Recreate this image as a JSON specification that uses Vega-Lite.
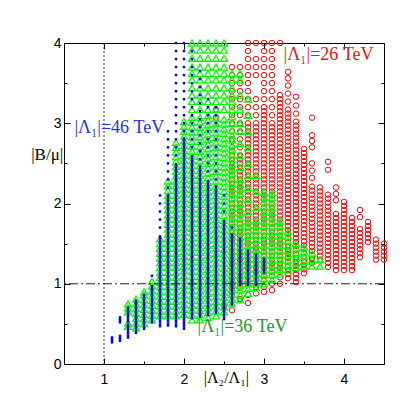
{
"$schema": "https://vega.github.io/schema/vega-lite/v6.json",
"width": 320, "height": 321,
"autosize": {"type": "none"},
"padding": {"left": 64, "top": 43, "right": 19, "bottom": 39},
"background": "white",
"config": {
  "view": {"stroke": "black", "strokeWidth": 1},
  "axis": {"domain": false, "grid": false, "tickColor": "black", "labelColor": "black", "labelFont": "Liberation Sans", "labelFontSize": 14, "title": null, "format": "d"}
},
"resolve": {"axis": {"x": "independent", "y": "independent"}},
"datasets": {
"red": [
{"x":2.4,"y":3.07},{"x":2.4,"y":3.17},{"x":2.5,"y":0.72},
{"x":2.6,"y":0.67},{"x":2.6,"y":0.85},{"x":2.6,"y":0.90},{"x":2.6,"y":0.95},{"x":2.6,"y":1.00},{"x":2.6,"y":1.05},{"x":2.6,"y":1.10},{"x":2.6,"y":1.15},{"x":2.6,"y":1.20},{"x":2.6,"y":1.25},{"x":2.6,"y":1.30},{"x":2.6,"y":1.35},{"x":2.6,"y":1.40},{"x":2.6,"y":1.45},{"x":2.6,"y":1.50},{"x":2.6,"y":1.55},{"x":2.6,"y":1.60},{"x":2.6,"y":1.65},{"x":2.6,"y":1.70},{"x":2.6,"y":1.75},{"x":2.6,"y":1.80},{"x":2.6,"y":1.85},{"x":2.6,"y":1.90},{"x":2.6,"y":1.95},{"x":2.6,"y":2.00},{"x":2.6,"y":2.05},{"x":2.6,"y":2.10},{"x":2.6,"y":2.15},{"x":2.6,"y":2.20},{"x":2.6,"y":2.25},{"x":2.6,"y":2.30},{"x":2.6,"y":2.35},{"x":2.6,"y":2.40},{"x":2.6,"y":2.45},{"x":2.6,"y":2.50},{"x":2.6,"y":2.55},{"x":2.6,"y":2.60},{"x":2.6,"y":2.65},{"x":2.6,"y":2.70},{"x":2.6,"y":2.8},{"x":2.6,"y":2.9},{"x":2.6,"y":3.0},{"x":2.6,"y":3.1},{"x":2.6,"y":3.2},{"x":2.6,"y":3.3},{"x":2.6,"y":3.4},{"x":2.6,"y":3.5},{"x":2.6,"y":3.6},{"x":2.6,"y":3.7},
{"x":2.7,"y":0.81},{"x":2.7,"y":0.95},{"x":2.7,"y":1.00},{"x":2.7,"y":1.05},{"x":2.7,"y":1.10},{"x":2.7,"y":1.15},{"x":2.7,"y":1.20},{"x":2.7,"y":1.25},{"x":2.7,"y":1.30},{"x":2.7,"y":1.35},{"x":2.7,"y":1.40},{"x":2.7,"y":1.45},{"x":2.7,"y":1.50},{"x":2.7,"y":1.55},{"x":2.7,"y":1.60},{"x":2.7,"y":1.65},{"x":2.7,"y":1.70},{"x":2.7,"y":1.75},{"x":2.7,"y":1.80},{"x":2.7,"y":1.85},{"x":2.7,"y":1.90},{"x":2.7,"y":1.95},{"x":2.7,"y":2.00},{"x":2.7,"y":2.05},{"x":2.7,"y":2.10},{"x":2.7,"y":2.15},{"x":2.7,"y":2.20},{"x":2.7,"y":2.25},{"x":2.7,"y":2.30},{"x":2.7,"y":2.35},{"x":2.7,"y":2.40},{"x":2.7,"y":2.45},{"x":2.7,"y":2.50},{"x":2.7,"y":2.55},{"x":2.7,"y":2.60},{"x":2.7,"y":2.7},{"x":2.7,"y":2.8},{"x":2.7,"y":2.9},{"x":2.7,"y":3.0},{"x":2.7,"y":3.1},{"x":2.7,"y":3.2},{"x":2.7,"y":3.3},{"x":2.7,"y":3.4},{"x":2.7,"y":3.5},{"x":2.7,"y":3.6},{"x":2.7,"y":3.7},
{"x":2.8,"y":0.76},{"x":2.8,"y":0.86},{"x":2.8,"y":1.00},{"x":2.8,"y":1.05},{"x":2.8,"y":1.10},{"x":2.8,"y":1.15},{"x":2.8,"y":1.20},{"x":2.8,"y":1.25},{"x":2.8,"y":1.30},{"x":2.8,"y":1.35},{"x":2.8,"y":1.40},{"x":2.8,"y":1.45},{"x":2.8,"y":1.50},{"x":2.8,"y":1.55},{"x":2.8,"y":1.60},{"x":2.8,"y":1.65},{"x":2.8,"y":1.70},{"x":2.8,"y":1.75},{"x":2.8,"y":1.80},{"x":2.8,"y":1.85},{"x":2.8,"y":1.90},{"x":2.8,"y":1.95},{"x":2.8,"y":2.00},{"x":2.8,"y":2.05},{"x":2.8,"y":2.10},{"x":2.8,"y":2.15},{"x":2.8,"y":2.20},{"x":2.8,"y":2.25},{"x":2.8,"y":2.30},{"x":2.8,"y":2.35},{"x":2.8,"y":2.40},{"x":2.8,"y":2.45},{"x":2.8,"y":2.50},{"x":2.8,"y":2.55},{"x":2.8,"y":2.60},{"x":2.8,"y":2.65},{"x":2.8,"y":2.70},{"x":2.8,"y":2.75},{"x":2.8,"y":2.80},{"x":2.8,"y":2.85},{"x":2.8,"y":2.90},{"x":2.8,"y":2.95},{"x":2.8,"y":3.00},{"x":2.8,"y":3.1},{"x":2.8,"y":3.2},{"x":2.8,"y":3.3},{"x":2.8,"y":3.4},{"x":2.8,"y":3.5},{"x":2.8,"y":3.6},{"x":2.8,"y":3.7},{"x":2.8,"y":3.8},{"x":2.8,"y":3.9},{"x":2.8,"y":4.0},
{"x":2.9,"y":0.88},{"x":2.9,"y":0.96},{"x":2.9,"y":1.05},{"x":2.9,"y":1.10},{"x":2.9,"y":1.15},{"x":2.9,"y":1.20},{"x":2.9,"y":1.25},{"x":2.9,"y":1.30},{"x":2.9,"y":1.35},{"x":2.9,"y":1.40},{"x":2.9,"y":1.45},{"x":2.9,"y":1.50},{"x":2.9,"y":1.55},{"x":2.9,"y":1.60},{"x":2.9,"y":1.65},{"x":2.9,"y":1.70},{"x":2.9,"y":1.75},{"x":2.9,"y":1.80},{"x":2.9,"y":1.85},{"x":2.9,"y":1.90},{"x":2.9,"y":1.95},{"x":2.9,"y":2.00},{"x":2.9,"y":2.05},{"x":2.9,"y":2.10},{"x":2.9,"y":2.15},{"x":2.9,"y":2.20},{"x":2.9,"y":2.25},{"x":2.9,"y":2.30},{"x":2.9,"y":2.35},{"x":2.9,"y":2.40},{"x":2.9,"y":2.45},{"x":2.9,"y":2.50},{"x":2.9,"y":2.55},{"x":2.9,"y":2.60},{"x":2.9,"y":2.65},{"x":2.9,"y":2.70},{"x":2.9,"y":2.75},{"x":2.9,"y":2.80},{"x":2.9,"y":2.85},{"x":2.9,"y":2.90},{"x":2.9,"y":2.95},{"x":2.9,"y":3.00},{"x":2.9,"y":3.1},{"x":2.9,"y":3.2},{"x":2.9,"y":3.3},{"x":2.9,"y":3.6},{"x":2.9,"y":3.7},{"x":2.9,"y":3.8},{"x":2.9,"y":4.0},
{"x":3.0,"y":0.90},{"x":3.0,"y":0.96},{"x":3.0,"y":1.05},{"x":3.0,"y":1.10},{"x":3.0,"y":1.15},{"x":3.0,"y":1.20},{"x":3.0,"y":1.25},{"x":3.0,"y":1.30},{"x":3.0,"y":1.35},{"x":3.0,"y":1.40},{"x":3.0,"y":1.45},{"x":3.0,"y":1.50},{"x":3.0,"y":1.55},{"x":3.0,"y":1.60},{"x":3.0,"y":1.65},{"x":3.0,"y":1.70},{"x":3.0,"y":1.75},{"x":3.0,"y":1.80},{"x":3.0,"y":1.85},{"x":3.0,"y":1.90},{"x":3.0,"y":1.95},{"x":3.0,"y":2.00},{"x":3.0,"y":2.05},{"x":3.0,"y":2.10},{"x":3.0,"y":2.15},{"x":3.0,"y":2.20},{"x":3.0,"y":2.25},{"x":3.0,"y":2.30},{"x":3.0,"y":2.35},{"x":3.0,"y":2.40},{"x":3.0,"y":2.45},{"x":3.0,"y":2.50},{"x":3.0,"y":2.55},{"x":3.0,"y":2.60},{"x":3.0,"y":2.65},{"x":3.0,"y":2.70},{"x":3.0,"y":2.75},{"x":3.0,"y":2.80},{"x":3.0,"y":2.85},{"x":3.0,"y":2.90},{"x":3.0,"y":2.95},{"x":3.0,"y":3.00},{"x":3.0,"y":3.05},{"x":3.0,"y":3.10},{"x":3.0,"y":3.15},{"x":3.0,"y":3.20},{"x":3.0,"y":3.3},{"x":3.0,"y":3.4},{"x":3.0,"y":3.5},{"x":3.0,"y":3.6},{"x":3.0,"y":3.7},{"x":3.0,"y":3.8},{"x":3.0,"y":3.9},{"x":3.0,"y":4.0},
{"x":3.1,"y":0.92},{"x":3.1,"y":1.00},{"x":3.1,"y":1.10},{"x":3.1,"y":1.15},{"x":3.1,"y":1.20},{"x":3.1,"y":1.25},{"x":3.1,"y":1.30},{"x":3.1,"y":1.35},{"x":3.1,"y":1.40},{"x":3.1,"y":1.45},{"x":3.1,"y":1.50},{"x":3.1,"y":1.55},{"x":3.1,"y":1.60},{"x":3.1,"y":1.65},{"x":3.1,"y":1.70},{"x":3.1,"y":1.75},{"x":3.1,"y":1.80},{"x":3.1,"y":1.85},{"x":3.1,"y":1.90},{"x":3.1,"y":1.95},{"x":3.1,"y":2.00},{"x":3.1,"y":2.05},{"x":3.1,"y":2.10},{"x":3.1,"y":2.15},{"x":3.1,"y":2.20},{"x":3.1,"y":2.25},{"x":3.1,"y":2.30},{"x":3.1,"y":2.35},{"x":3.1,"y":2.40},{"x":3.1,"y":2.45},{"x":3.1,"y":2.50},{"x":3.1,"y":2.55},{"x":3.1,"y":2.60},{"x":3.1,"y":2.65},{"x":3.1,"y":2.70},{"x":3.1,"y":2.75},{"x":3.1,"y":2.80},{"x":3.1,"y":2.85},{"x":3.1,"y":2.90},{"x":3.1,"y":2.95},{"x":3.1,"y":3.00},{"x":3.1,"y":3.1},{"x":3.1,"y":3.2},{"x":3.1,"y":3.3},{"x":3.1,"y":3.4},{"x":3.1,"y":3.5},{"x":3.1,"y":3.6},{"x":3.1,"y":3.7},{"x":3.1,"y":3.8},{"x":3.1,"y":3.9},{"x":3.1,"y":4.0},
{"x":3.2,"y":1.00},{"x":3.2,"y":1.08},{"x":3.2,"y":1.15},{"x":3.2,"y":1.20},{"x":3.2,"y":1.25},{"x":3.2,"y":1.30},{"x":3.2,"y":1.35},{"x":3.2,"y":1.40},{"x":3.2,"y":1.45},{"x":3.2,"y":1.50},{"x":3.2,"y":1.55},{"x":3.2,"y":1.60},{"x":3.2,"y":1.65},{"x":3.2,"y":1.70},{"x":3.2,"y":1.75},{"x":3.2,"y":1.80},{"x":3.2,"y":1.85},{"x":3.2,"y":1.90},{"x":3.2,"y":1.95},{"x":3.2,"y":2.00},{"x":3.2,"y":2.05},{"x":3.2,"y":2.10},{"x":3.2,"y":2.15},{"x":3.2,"y":2.20},{"x":3.2,"y":2.25},{"x":3.2,"y":2.30},{"x":3.2,"y":2.35},{"x":3.2,"y":2.40},{"x":3.2,"y":2.45},{"x":3.2,"y":2.50},{"x":3.2,"y":2.55},{"x":3.2,"y":2.60},{"x":3.2,"y":2.65},{"x":3.2,"y":2.70},{"x":3.2,"y":2.75},{"x":3.2,"y":2.80},{"x":3.2,"y":2.85},{"x":3.2,"y":2.90},{"x":3.2,"y":2.95},{"x":3.2,"y":3.00},{"x":3.2,"y":3.05},{"x":3.2,"y":3.10},{"x":3.2,"y":3.15},{"x":3.2,"y":3.20},{"x":3.2,"y":3.25},{"x":3.2,"y":3.30},{"x":3.2,"y":3.35},{"x":3.2,"y":4.0},
{"x":3.3,"y":1.07},{"x":3.3,"y":1.12},{"x":3.3,"y":1.17},{"x":3.3,"y":1.22},{"x":3.3,"y":1.27},{"x":3.3,"y":1.32},{"x":3.3,"y":1.37},{"x":3.3,"y":1.42},{"x":3.3,"y":1.47},{"x":3.3,"y":1.52},{"x":3.3,"y":1.57},{"x":3.3,"y":1.62},{"x":3.3,"y":1.67},{"x":3.3,"y":1.72},{"x":3.3,"y":1.77},{"x":3.3,"y":1.82},{"x":3.3,"y":1.87},{"x":3.3,"y":1.92},{"x":3.3,"y":1.97},{"x":3.3,"y":2.02},{"x":3.3,"y":2.07},{"x":3.3,"y":2.12},{"x":3.3,"y":2.17},{"x":3.3,"y":2.22},{"x":3.3,"y":2.27},{"x":3.3,"y":2.32},{"x":3.3,"y":2.37},{"x":3.3,"y":2.42},{"x":3.3,"y":2.47},{"x":3.3,"y":2.52},{"x":3.3,"y":2.57},{"x":3.3,"y":2.62},{"x":3.3,"y":2.67},{"x":3.3,"y":2.72},{"x":3.3,"y":2.77},{"x":3.3,"y":2.82},{"x":3.3,"y":2.87},{"x":3.3,"y":2.92},{"x":3.3,"y":2.97},{"x":3.3,"y":3.02},{"x":3.3,"y":3.07},{"x":3.3,"y":3.12},{"x":3.3,"y":3.17},{"x":3.3,"y":3.27},{"x":3.3,"y":3.37},{"x":3.3,"y":3.47},{"x":3.3,"y":3.56},{"x":3.3,"y":3.64},
{"x":3.4,"y":1.02},{"x":3.4,"y":1.07},{"x":3.4,"y":1.12},{"x":3.4,"y":1.17},{"x":3.4,"y":1.22},{"x":3.4,"y":1.27},{"x":3.4,"y":1.32},{"x":3.4,"y":1.37},{"x":3.4,"y":1.42},{"x":3.4,"y":1.47},{"x":3.4,"y":1.52},{"x":3.4,"y":1.57},{"x":3.4,"y":1.62},{"x":3.4,"y":1.67},{"x":3.4,"y":1.72},{"x":3.4,"y":1.77},{"x":3.4,"y":1.82},{"x":3.4,"y":1.87},{"x":3.4,"y":1.92},{"x":3.4,"y":1.97},{"x":3.4,"y":2.02},{"x":3.4,"y":2.07},{"x":3.4,"y":2.12},{"x":3.4,"y":2.17},{"x":3.4,"y":2.22},{"x":3.4,"y":2.27},{"x":3.4,"y":2.32},{"x":3.4,"y":2.37},{"x":3.4,"y":2.42},{"x":3.4,"y":2.47},{"x":3.4,"y":2.52},{"x":3.4,"y":2.57},{"x":3.4,"y":2.62},{"x":3.4,"y":2.67},{"x":3.4,"y":2.72},{"x":3.4,"y":2.77},{"x":3.4,"y":2.82},{"x":3.4,"y":2.87},{"x":3.4,"y":2.92},{"x":3.4,"y":2.97},{"x":3.4,"y":3.02},{"x":3.4,"y":3.12},{"x":3.4,"y":3.22},{"x":3.4,"y":3.33},
{"x":3.5,"y":1.13},{"x":3.5,"y":1.18},{"x":3.5,"y":1.23},{"x":3.5,"y":1.28},{"x":3.5,"y":1.33},{"x":3.5,"y":1.38},{"x":3.5,"y":1.43},{"x":3.5,"y":1.48},{"x":3.5,"y":1.53},{"x":3.5,"y":1.58},{"x":3.5,"y":1.63},{"x":3.5,"y":1.68},{"x":3.5,"y":1.73},{"x":3.5,"y":1.78},{"x":3.5,"y":1.83},{"x":3.5,"y":1.88},{"x":3.5,"y":1.93},{"x":3.5,"y":1.98},{"x":3.5,"y":2.03},{"x":3.5,"y":2.08},{"x":3.5,"y":2.13},{"x":3.5,"y":2.18},{"x":3.5,"y":2.23},{"x":3.5,"y":2.28},{"x":3.5,"y":2.33},{"x":3.5,"y":2.38},{"x":3.5,"y":2.43},{"x":3.5,"y":2.48},{"x":3.5,"y":2.53},{"x":3.5,"y":2.58},{"x":3.5,"y":2.63},{"x":3.5,"y":2.68},
{"x":3.6,"y":1.26},{"x":3.6,"y":1.31},{"x":3.6,"y":1.36},{"x":3.6,"y":1.41},{"x":3.6,"y":1.46},{"x":3.6,"y":1.51},{"x":3.6,"y":1.56},{"x":3.6,"y":1.61},{"x":3.6,"y":1.66},{"x":3.6,"y":1.71},{"x":3.6,"y":1.76},{"x":3.6,"y":1.81},{"x":3.6,"y":1.86},{"x":3.6,"y":1.91},{"x":3.6,"y":1.96},{"x":3.6,"y":2.01},{"x":3.6,"y":2.06},{"x":3.6,"y":2.11},{"x":3.6,"y":2.16},{"x":3.6,"y":2.21},{"x":3.6,"y":2.32},{"x":3.6,"y":2.41},{"x":3.6,"y":2.50},{"x":3.6,"y":2.70},{"x":3.6,"y":2.78},{"x":3.6,"y":2.85},{"x":3.6,"y":3.07},
{"x":3.7,"y":1.30},{"x":3.7,"y":1.35},{"x":3.7,"y":1.40},{"x":3.7,"y":1.45},{"x":3.7,"y":1.50},{"x":3.7,"y":1.55},{"x":3.7,"y":1.60},{"x":3.7,"y":1.65},{"x":3.7,"y":1.70},{"x":3.7,"y":1.75},{"x":3.7,"y":1.80},{"x":3.7,"y":1.85},{"x":3.7,"y":1.90},{"x":3.7,"y":1.95},{"x":3.7,"y":2.00},{"x":3.7,"y":2.05},{"x":3.7,"y":2.10},{"x":3.7,"y":2.15},{"x":3.7,"y":2.20},
{"x":3.8,"y":1.21},{"x":3.8,"y":1.26},{"x":3.8,"y":1.31},{"x":3.8,"y":1.36},{"x":3.8,"y":1.41},{"x":3.8,"y":1.46},{"x":3.8,"y":1.51},{"x":3.8,"y":1.56},{"x":3.8,"y":1.61},{"x":3.8,"y":1.66},{"x":3.8,"y":1.71},{"x":3.8,"y":1.76},{"x":3.8,"y":1.81},{"x":3.8,"y":1.86},{"x":3.8,"y":1.91},{"x":3.8,"y":1.96},{"x":3.8,"y":2.01},{"x":3.8,"y":2.06},{"x":3.8,"y":2.11},{"x":3.8,"y":2.42},{"x":3.8,"y":2.52},
{"x":3.9,"y":1.17},{"x":3.9,"y":1.22},{"x":3.9,"y":1.27},{"x":3.9,"y":1.32},{"x":3.9,"y":1.37},{"x":3.9,"y":1.42},{"x":3.9,"y":1.47},{"x":3.9,"y":1.52},{"x":3.9,"y":1.57},{"x":3.9,"y":1.62},{"x":3.9,"y":1.67},{"x":3.9,"y":1.72},{"x":3.9,"y":1.77},{"x":3.9,"y":1.82},{"x":3.9,"y":1.87},{"x":3.9,"y":2.04},{"x":3.9,"y":2.12},{"x":3.9,"y":2.20},
{"x":4.0,"y":1.17},{"x":4.0,"y":1.22},{"x":4.0,"y":1.27},{"x":4.0,"y":1.32},{"x":4.0,"y":1.37},{"x":4.0,"y":1.42},{"x":4.0,"y":1.47},{"x":4.0,"y":1.52},{"x":4.0,"y":1.57},{"x":4.0,"y":1.62},{"x":4.0,"y":1.67},{"x":4.0,"y":1.72},{"x":4.0,"y":1.77},{"x":4.0,"y":1.82},{"x":4.0,"y":1.87},{"x":4.0,"y":1.92},{"x":4.0,"y":1.97},{"x":4.0,"y":2.02},
{"x":4.1,"y":1.17},{"x":4.1,"y":1.22},{"x":4.1,"y":1.27},{"x":4.1,"y":1.32},{"x":4.1,"y":1.37},{"x":4.1,"y":1.42},{"x":4.1,"y":1.47},{"x":4.1,"y":1.52},{"x":4.1,"y":1.57},{"x":4.1,"y":1.62},{"x":4.1,"y":1.67},{"x":4.1,"y":1.72},{"x":4.1,"y":1.77},{"x":4.1,"y":1.82},
{"x":4.2,"y":1.33},{"x":4.2,"y":1.38},{"x":4.2,"y":1.43},{"x":4.2,"y":1.48},{"x":4.2,"y":1.53},{"x":4.2,"y":1.58},{"x":4.2,"y":1.63},{"x":4.2,"y":1.68},{"x":4.2,"y":1.83},{"x":4.2,"y":1.92},
{"x":4.3,"y":1.52},{"x":4.3,"y":1.57},{"x":4.3,"y":1.62},{"x":4.3,"y":1.67},{"x":4.3,"y":1.72},{"x":4.3,"y":1.77},
{"x":4.4,"y":1.30},{"x":4.4,"y":1.35},{"x":4.4,"y":1.40},{"x":4.4,"y":1.45},{"x":4.4,"y":1.50},{"x":4.4,"y":1.55},
{"x":4.5,"y":1.30},{"x":4.5,"y":1.35},{"x":4.5,"y":1.40},{"x":4.5,"y":1.45},{"x":4.5,"y":1.50}
],
"green": [
{"x":1.3,"y":0.47},{"x":1.3,"y":0.51},{"x":1.3,"y":0.65},{"x":1.3,"y":0.70},{"x":1.3,"y":0.75},
{"x":1.4,"y":0.45},{"x":1.4,"y":0.51},{"x":1.4,"y":0.57},{"x":1.4,"y":0.63},{"x":1.4,"y":0.69},{"x":1.4,"y":0.75},{"x":1.4,"y":0.81},
{"x":1.5,"y":0.50},{"x":1.5,"y":0.56},{"x":1.5,"y":0.62},{"x":1.5,"y":0.68},{"x":1.5,"y":0.74},{"x":1.5,"y":0.80},{"x":1.5,"y":0.86},{"x":1.5,"y":0.90},
{"x":1.6,"y":0.55},{"x":1.6,"y":0.61},{"x":1.6,"y":0.67},{"x":1.6,"y":0.73},{"x":1.6,"y":0.79},{"x":1.6,"y":0.85},{"x":1.6,"y":0.91},{"x":1.6,"y":0.97},{"x":1.6,"y":1.03},
{"x":1.7,"y":0.60},{"x":1.7,"y":0.66},{"x":1.7,"y":0.72},{"x":1.7,"y":0.78},{"x":1.7,"y":0.84},{"x":1.7,"y":0.90},{"x":1.7,"y":0.96},{"x":1.7,"y":1.02},{"x":1.7,"y":1.08},{"x":1.7,"y":1.14},{"x":1.7,"y":1.20},{"x":1.7,"y":1.26},{"x":1.7,"y":1.32},{"x":1.7,"y":1.38},{"x":1.7,"y":1.44},{"x":1.7,"y":1.50},{"x":1.7,"y":1.56},
{"x":1.8,"y":0.60},{"x":1.8,"y":0.66},{"x":1.8,"y":0.72},{"x":1.8,"y":0.78},{"x":1.8,"y":0.84},{"x":1.8,"y":0.90},{"x":1.8,"y":0.96},{"x":1.8,"y":1.02},{"x":1.8,"y":1.08},{"x":1.8,"y":1.14},{"x":1.8,"y":1.20},{"x":1.8,"y":1.26},{"x":1.8,"y":1.32},{"x":1.8,"y":1.38},{"x":1.8,"y":1.44},{"x":1.8,"y":1.50},{"x":1.8,"y":1.56},{"x":1.8,"y":1.62},{"x":1.8,"y":1.68},{"x":1.8,"y":1.74},{"x":1.8,"y":1.80},{"x":1.8,"y":1.86},{"x":1.8,"y":1.92},{"x":1.8,"y":1.98},{"x":1.8,"y":2.04},{"x":1.8,"y":2.10},{"x":1.8,"y":2.16},{"x":1.8,"y":2.22},{"x":1.8,"y":2.28},
{"x":1.9,"y":0.60},{"x":1.9,"y":0.66},{"x":1.9,"y":0.72},{"x":1.9,"y":0.78},{"x":1.9,"y":0.84},{"x":1.9,"y":0.90},{"x":1.9,"y":0.96},{"x":1.9,"y":1.02},{"x":1.9,"y":1.08},{"x":1.9,"y":1.14},{"x":1.9,"y":1.20},{"x":1.9,"y":1.26},{"x":1.9,"y":1.32},{"x":1.9,"y":1.38},{"x":1.9,"y":1.44},{"x":1.9,"y":1.50},{"x":1.9,"y":1.56},{"x":1.9,"y":1.62},{"x":1.9,"y":1.68},{"x":1.9,"y":1.74},{"x":1.9,"y":1.80},{"x":1.9,"y":1.86},{"x":1.9,"y":1.92},{"x":1.9,"y":1.98},{"x":1.9,"y":2.04},{"x":1.9,"y":2.10},{"x":1.9,"y":2.16},{"x":1.9,"y":2.22},{"x":1.9,"y":2.28},{"x":1.9,"y":2.34},{"x":1.9,"y":2.40},{"x":1.9,"y":2.46},{"x":1.9,"y":2.52},{"x":1.9,"y":2.58},{"x":1.9,"y":2.64},{"x":1.9,"y":2.70},{"x":1.9,"y":2.76},
{"x":2.0,"y":0.62},{"x":2.0,"y":0.68},{"x":2.0,"y":0.74},{"x":2.0,"y":0.80},{"x":2.0,"y":0.86},{"x":2.0,"y":0.92},{"x":2.0,"y":0.98},{"x":2.0,"y":1.04},{"x":2.0,"y":1.10},{"x":2.0,"y":1.16},{"x":2.0,"y":1.22},{"x":2.0,"y":1.28},{"x":2.0,"y":1.34},{"x":2.0,"y":1.40},{"x":2.0,"y":1.46},{"x":2.0,"y":1.52},{"x":2.0,"y":1.58},{"x":2.0,"y":1.64},{"x":2.0,"y":1.70},{"x":2.0,"y":1.76},{"x":2.0,"y":1.82},{"x":2.0,"y":1.88},{"x":2.0,"y":1.94},{"x":2.0,"y":2.00},{"x":2.0,"y":2.06},{"x":2.0,"y":2.12},{"x":2.0,"y":2.18},{"x":2.0,"y":2.24},{"x":2.0,"y":2.30},{"x":2.0,"y":2.36},{"x":2.0,"y":2.42},{"x":2.0,"y":2.48},{"x":2.0,"y":2.54},{"x":2.0,"y":2.60},{"x":2.0,"y":2.66},{"x":2.0,"y":2.72},{"x":2.0,"y":2.78},{"x":2.0,"y":2.84},{"x":2.0,"y":2.90},{"x":2.0,"y":2.96},{"x":2.0,"y":3.02},
{"x":2.1,"y":0.55},{"x":2.1,"y":0.61},{"x":2.1,"y":0.67},{"x":2.1,"y":0.73},{"x":2.1,"y":0.79},{"x":2.1,"y":0.85},{"x":2.1,"y":0.91},{"x":2.1,"y":0.97},{"x":2.1,"y":1.03},{"x":2.1,"y":1.09},{"x":2.1,"y":1.15},{"x":2.1,"y":1.21},{"x":2.1,"y":1.27},{"x":2.1,"y":1.33},{"x":2.1,"y":1.39},{"x":2.1,"y":1.45},{"x":2.1,"y":1.51},{"x":2.1,"y":1.57},{"x":2.1,"y":1.63},{"x":2.1,"y":1.69},{"x":2.1,"y":1.75},{"x":2.1,"y":1.81},{"x":2.1,"y":1.87},{"x":2.1,"y":1.93},{"x":2.1,"y":1.99},{"x":2.1,"y":2.05},{"x":2.1,"y":2.11},{"x":2.1,"y":2.17},{"x":2.1,"y":2.23},{"x":2.1,"y":2.29},{"x":2.1,"y":2.35},{"x":2.1,"y":2.41},{"x":2.1,"y":2.47},{"x":2.1,"y":2.53},{"x":2.1,"y":2.59},{"x":2.1,"y":2.65},{"x":2.1,"y":2.71},{"x":2.1,"y":2.77},{"x":2.1,"y":2.83},{"x":2.1,"y":2.89},{"x":2.1,"y":2.95},{"x":2.1,"y":3.01},{"x":2.1,"y":3.07},{"x":2.1,"y":3.17},{"x":2.1,"y":3.27},{"x":2.1,"y":3.35},{"x":2.1,"y":3.44},{"x":2.1,"y":3.54},{"x":2.1,"y":3.62},{"x":2.1,"y":3.70},{"x":2.1,"y":3.81},{"x":2.1,"y":3.91},{"x":2.1,"y":4.00},
{"x":2.2,"y":0.55},{"x":2.2,"y":0.61},{"x":2.2,"y":0.67},{"x":2.2,"y":0.73},{"x":2.2,"y":0.79},{"x":2.2,"y":0.85},{"x":2.2,"y":0.91},{"x":2.2,"y":0.97},{"x":2.2,"y":1.03},{"x":2.2,"y":1.09},{"x":2.2,"y":1.15},{"x":2.2,"y":1.21},{"x":2.2,"y":1.27},{"x":2.2,"y":1.33},{"x":2.2,"y":1.39},{"x":2.2,"y":1.45},{"x":2.2,"y":1.51},{"x":2.2,"y":1.57},{"x":2.2,"y":1.63},{"x":2.2,"y":1.69},{"x":2.2,"y":1.75},{"x":2.2,"y":1.81},{"x":2.2,"y":1.87},{"x":2.2,"y":1.93},{"x":2.2,"y":1.99},{"x":2.2,"y":2.05},{"x":2.2,"y":2.11},{"x":2.2,"y":2.17},{"x":2.2,"y":2.23},{"x":2.2,"y":2.29},{"x":2.2,"y":2.35},{"x":2.2,"y":2.41},{"x":2.2,"y":2.47},{"x":2.2,"y":2.53},{"x":2.2,"y":2.59},{"x":2.2,"y":2.65},{"x":2.2,"y":2.71},{"x":2.2,"y":2.77},{"x":2.2,"y":2.83},{"x":2.2,"y":2.89},{"x":2.2,"y":2.95},{"x":2.2,"y":3.01},{"x":2.2,"y":3.07},{"x":2.2,"y":3.17},{"x":2.2,"y":3.27},{"x":2.2,"y":3.35},{"x":2.2,"y":3.44},{"x":2.2,"y":3.54},{"x":2.2,"y":3.62},{"x":2.2,"y":3.70},{"x":2.2,"y":3.81},{"x":2.2,"y":3.91},{"x":2.2,"y":4.00},
{"x":2.3,"y":0.58},{"x":2.3,"y":0.64},{"x":2.3,"y":0.70},{"x":2.3,"y":0.76},{"x":2.3,"y":0.82},{"x":2.3,"y":0.88},{"x":2.3,"y":0.94},{"x":2.3,"y":1.00},{"x":2.3,"y":1.06},{"x":2.3,"y":1.12},{"x":2.3,"y":1.18},{"x":2.3,"y":1.24},{"x":2.3,"y":1.30},{"x":2.3,"y":1.36},{"x":2.3,"y":1.42},{"x":2.3,"y":1.48},{"x":2.3,"y":1.54},{"x":2.3,"y":1.60},{"x":2.3,"y":1.66},{"x":2.3,"y":1.72},{"x":2.3,"y":1.78},{"x":2.3,"y":1.84},{"x":2.3,"y":1.90},{"x":2.3,"y":1.96},{"x":2.3,"y":2.02},{"x":2.3,"y":2.08},{"x":2.3,"y":2.14},{"x":2.3,"y":2.20},{"x":2.3,"y":2.26},{"x":2.3,"y":2.32},{"x":2.3,"y":2.38},{"x":2.3,"y":2.44},{"x":2.3,"y":2.50},{"x":2.3,"y":2.56},{"x":2.3,"y":2.62},{"x":2.3,"y":2.68},{"x":2.3,"y":2.74},{"x":2.3,"y":2.80},{"x":2.3,"y":2.86},{"x":2.3,"y":2.92},{"x":2.3,"y":2.98},{"x":2.3,"y":3.04},{"x":2.3,"y":3.10},{"x":2.3,"y":3.17},{"x":2.3,"y":3.27},{"x":2.3,"y":3.35},{"x":2.3,"y":3.44},{"x":2.3,"y":3.54},{"x":2.3,"y":3.62},{"x":2.3,"y":3.70},{"x":2.3,"y":3.81},{"x":2.3,"y":3.91},{"x":2.3,"y":4.00},
{"x":2.4,"y":0.60},{"x":2.4,"y":0.66},{"x":2.4,"y":0.72},{"x":2.4,"y":0.78},{"x":2.4,"y":0.84},{"x":2.4,"y":0.90},{"x":2.4,"y":0.96},{"x":2.4,"y":1.02},{"x":2.4,"y":1.08},{"x":2.4,"y":1.14},{"x":2.4,"y":1.20},{"x":2.4,"y":1.26},{"x":2.4,"y":1.32},{"x":2.4,"y":1.38},{"x":2.4,"y":1.44},{"x":2.4,"y":1.50},{"x":2.4,"y":1.56},{"x":2.4,"y":1.62},{"x":2.4,"y":1.68},{"x":2.4,"y":1.74},{"x":2.4,"y":1.80},{"x":2.4,"y":1.86},{"x":2.4,"y":1.92},{"x":2.4,"y":1.98},{"x":2.4,"y":2.04},{"x":2.4,"y":2.10},{"x":2.4,"y":2.16},{"x":2.4,"y":2.22},{"x":2.4,"y":2.28},{"x":2.4,"y":2.34},{"x":2.4,"y":2.40},{"x":2.4,"y":2.46},{"x":2.4,"y":2.52},{"x":2.4,"y":2.58},{"x":2.4,"y":2.64},{"x":2.4,"y":2.70},{"x":2.4,"y":2.76},{"x":2.4,"y":2.82},{"x":2.4,"y":2.88},{"x":2.4,"y":2.94},{"x":2.4,"y":3.00},{"x":2.4,"y":3.06},{"x":2.4,"y":3.17},{"x":2.4,"y":3.27},{"x":2.4,"y":3.35},{"x":2.4,"y":3.44},{"x":2.4,"y":3.54},{"x":2.4,"y":3.62},{"x":2.4,"y":3.70},{"x":2.4,"y":3.81},{"x":2.4,"y":3.91},{"x":2.4,"y":4.00},
{"x":2.5,"y":0.65},{"x":2.5,"y":0.71},{"x":2.5,"y":0.77},{"x":2.5,"y":0.83},{"x":2.5,"y":0.89},{"x":2.5,"y":0.95},{"x":2.5,"y":1.01},{"x":2.5,"y":1.07},{"x":2.5,"y":1.13},{"x":2.5,"y":1.19},{"x":2.5,"y":1.25},{"x":2.5,"y":1.31},{"x":2.5,"y":1.37},{"x":2.5,"y":1.43},{"x":2.5,"y":1.49},{"x":2.5,"y":1.55},{"x":2.5,"y":1.61},{"x":2.5,"y":1.67},{"x":2.5,"y":1.73},{"x":2.5,"y":1.79},{"x":2.5,"y":1.85},{"x":2.5,"y":1.91},{"x":2.5,"y":1.97},{"x":2.5,"y":2.03},{"x":2.5,"y":2.09},{"x":2.5,"y":2.15},{"x":2.5,"y":2.21},{"x":2.5,"y":2.27},{"x":2.5,"y":2.33},{"x":2.5,"y":2.39},{"x":2.5,"y":2.45},{"x":2.5,"y":2.51},{"x":2.5,"y":2.57},{"x":2.5,"y":2.63},{"x":2.5,"y":2.69},{"x":2.5,"y":2.75},{"x":2.5,"y":2.81},{"x":2.5,"y":2.87},{"x":2.5,"y":2.93},{"x":2.5,"y":2.99},{"x":2.5,"y":3.05},{"x":2.5,"y":3.17},{"x":2.5,"y":3.27},{"x":2.5,"y":3.35},{"x":2.5,"y":3.44},{"x":2.5,"y":3.54},{"x":2.5,"y":3.62},{"x":2.5,"y":3.70},{"x":2.5,"y":3.81},{"x":2.5,"y":3.91},{"x":2.5,"y":4.00},
{"x":2.6,"y":0.75},{"x":2.6,"y":0.81},{"x":2.6,"y":0.87},{"x":2.6,"y":0.93},{"x":2.6,"y":0.99},{"x":2.6,"y":1.05},{"x":2.6,"y":1.11},{"x":2.6,"y":1.17},{"x":2.6,"y":1.23},{"x":2.6,"y":1.29},{"x":2.6,"y":1.35},{"x":2.6,"y":1.41},{"x":2.6,"y":1.47},{"x":2.6,"y":1.53},{"x":2.6,"y":1.59},{"x":2.6,"y":1.65},{"x":2.6,"y":1.71},{"x":2.6,"y":1.77},{"x":2.6,"y":1.83},{"x":2.6,"y":1.89},{"x":2.6,"y":1.95},{"x":2.6,"y":2.01},{"x":2.6,"y":2.07},{"x":2.6,"y":2.13},{"x":2.6,"y":2.19},{"x":2.6,"y":2.25},{"x":2.6,"y":2.31},{"x":2.6,"y":2.37},{"x":2.6,"y":2.43},{"x":2.6,"y":2.49},{"x":2.6,"y":2.55},{"x":2.6,"y":2.61},{"x":2.6,"y":2.67},{"x":2.6,"y":2.73},{"x":2.6,"y":2.79},{"x":2.6,"y":2.85},{"x":2.6,"y":2.91},{"x":2.6,"y":3.00},{"x":2.6,"y":3.08},{"x":2.6,"y":3.17},{"x":2.6,"y":3.27},{"x":2.6,"y":3.35},{"x":2.6,"y":3.44},{"x":2.6,"y":3.54},{"x":2.6,"y":3.62},
{"x":2.7,"y":0.80},{"x":2.7,"y":0.86},{"x":2.7,"y":0.92},{"x":2.7,"y":0.98},{"x":2.7,"y":1.04},{"x":2.7,"y":1.10},{"x":2.7,"y":1.16},{"x":2.7,"y":1.22},{"x":2.7,"y":1.28},{"x":2.7,"y":1.34},{"x":2.7,"y":1.40},{"x":2.7,"y":1.46},{"x":2.7,"y":1.52},{"x":2.7,"y":1.58},{"x":2.7,"y":1.64},{"x":2.7,"y":1.70},{"x":2.7,"y":1.76},{"x":2.7,"y":1.82},{"x":2.7,"y":1.88},{"x":2.7,"y":1.94},{"x":2.7,"y":2.00},{"x":2.7,"y":2.06},{"x":2.7,"y":2.12},{"x":2.7,"y":2.18},{"x":2.7,"y":2.24},{"x":2.7,"y":2.30},{"x":2.7,"y":2.45},{"x":2.7,"y":2.60},{"x":2.7,"y":2.75},{"x":2.7,"y":2.90},{"x":2.7,"y":3.00},{"x":2.7,"y":3.17},{"x":2.7,"y":3.35},{"x":2.7,"y":3.54},{"x":2.7,"y":3.62},
{"x":2.8,"y":0.88},{"x":2.8,"y":0.94},{"x":2.8,"y":1.00},{"x":2.8,"y":1.06},{"x":2.8,"y":1.12},{"x":2.8,"y":1.18},{"x":2.8,"y":1.24},{"x":2.8,"y":1.30},{"x":2.8,"y":1.36},{"x":2.8,"y":1.42},{"x":2.8,"y":1.48},{"x":2.8,"y":1.54},{"x":2.8,"y":1.60},{"x":2.8,"y":1.66},{"x":2.8,"y":1.72},{"x":2.8,"y":1.78},{"x":2.8,"y":1.90},{"x":2.8,"y":2.05},{"x":2.8,"y":2.20},{"x":2.8,"y":2.35},{"x":2.8,"y":2.50},{"x":2.8,"y":2.70},{"x":2.8,"y":2.90},{"x":2.8,"y":3.10},{"x":2.8,"y":3.30},
{"x":2.9,"y":0.95},{"x":2.9,"y":1.01},{"x":2.9,"y":1.07},{"x":2.9,"y":1.13},{"x":2.9,"y":1.19},{"x":2.9,"y":1.25},{"x":2.9,"y":1.31},{"x":2.9,"y":1.37},{"x":2.9,"y":1.43},{"x":2.9,"y":1.49},{"x":2.9,"y":1.55},{"x":2.9,"y":1.61},{"x":2.9,"y":1.67},{"x":2.9,"y":1.73},{"x":2.9,"y":1.79},{"x":2.9,"y":1.95},{"x":2.9,"y":2.15},{"x":2.9,"y":2.35},
{"x":3.0,"y":1.00},{"x":3.0,"y":1.06},{"x":3.0,"y":1.12},{"x":3.0,"y":1.18},{"x":3.0,"y":1.24},{"x":3.0,"y":1.30},{"x":3.0,"y":1.36},{"x":3.0,"y":1.42},{"x":3.0,"y":1.48},{"x":3.0,"y":1.54},{"x":3.0,"y":1.60},{"x":3.0,"y":1.66},{"x":3.0,"y":1.72},{"x":3.0,"y":1.78},{"x":3.0,"y":1.84},{"x":3.0,"y":1.90},{"x":3.0,"y":1.96},{"x":3.0,"y":2.02},{"x":3.0,"y":2.08},{"x":3.0,"y":2.14},
{"x":3.1,"y":1.05},{"x":3.1,"y":1.11},{"x":3.1,"y":1.17},{"x":3.1,"y":1.23},{"x":3.1,"y":1.29},{"x":3.1,"y":1.35},{"x":3.1,"y":1.41},{"x":3.1,"y":1.47},{"x":3.1,"y":1.53},{"x":3.1,"y":1.59},{"x":3.1,"y":1.65},{"x":3.1,"y":1.71},{"x":3.1,"y":1.77},{"x":3.1,"y":1.83},{"x":3.1,"y":1.89},{"x":3.1,"y":1.95},{"x":3.1,"y":2.01},{"x":3.1,"y":2.07},{"x":3.1,"y":2.13},
{"x":3.2,"y":1.12},{"x":3.2,"y":1.18},{"x":3.2,"y":1.24},{"x":3.2,"y":1.30},{"x":3.2,"y":1.36},{"x":3.2,"y":1.42},{"x":3.2,"y":1.48},{"x":3.2,"y":1.54},{"x":3.2,"y":1.60},{"x":3.2,"y":1.66},{"x":3.2,"y":1.72},{"x":3.2,"y":1.78},
{"x":3.3,"y":1.17},{"x":3.3,"y":1.23},{"x":3.3,"y":1.29},{"x":3.3,"y":1.35},{"x":3.3,"y":1.41},{"x":3.3,"y":1.47},{"x":3.3,"y":1.53},{"x":3.3,"y":1.59},{"x":3.3,"y":1.65},
{"x":3.4,"y":1.20},{"x":3.4,"y":1.26},{"x":3.4,"y":1.32},{"x":3.4,"y":1.38},{"x":3.4,"y":1.44},{"x":3.4,"y":1.50},
{"x":3.5,"y":1.22},{"x":3.5,"y":1.28},{"x":3.5,"y":1.34},{"x":3.5,"y":1.40},{"x":3.5,"y":1.46},
{"x":3.6,"y":1.22},{"x":3.6,"y":1.30},{"x":3.6,"y":1.38},
{"x":3.7,"y":1.22},{"x":3.7,"y":1.30}
],
"blue": [
{"x":1.1,"y":0.28},{"x":1.1,"y":0.32},
{"x":1.2,"y":0.30},{"x":1.2,"y":0.34},{"x":1.2,"y":0.53},{"x":1.2,"y":0.57},
{"x":1.3,"y":0.34},{"x":1.3,"y":0.39},{"x":1.3,"y":0.44},{"x":1.3,"y":0.48},{"x":1.3,"y":0.54},{"x":1.3,"y":0.59},{"x":1.3,"y":0.64},{"x":1.3,"y":0.69},
{"x":1.4,"y":0.40},{"x":1.4,"y":0.45},{"x":1.4,"y":0.50},{"x":1.4,"y":0.55},{"x":1.4,"y":0.60},{"x":1.4,"y":0.65},{"x":1.4,"y":0.70},{"x":1.4,"y":0.75},{"x":1.4,"y":0.78},
{"x":1.5,"y":0.45},{"x":1.5,"y":0.50},{"x":1.5,"y":0.55},{"x":1.5,"y":0.60},{"x":1.5,"y":0.65},{"x":1.5,"y":0.70},{"x":1.5,"y":0.75},{"x":1.5,"y":0.80},{"x":1.5,"y":0.85},
{"x":1.6,"y":0.53},{"x":1.6,"y":0.58},{"x":1.6,"y":0.63},{"x":1.6,"y":0.68},{"x":1.6,"y":0.73},{"x":1.6,"y":0.78},{"x":1.6,"y":0.83},{"x":1.6,"y":0.88},{"x":1.6,"y":0.93},{"x":1.6,"y":0.96},
{"x":1.7,"y":0.48},{"x":1.7,"y":0.53},{"x":1.7,"y":0.58},{"x":1.7,"y":0.63},{"x":1.7,"y":0.68},{"x":1.7,"y":0.73},{"x":1.7,"y":0.78},{"x":1.7,"y":0.83},{"x":1.7,"y":0.88},{"x":1.7,"y":0.93},{"x":1.7,"y":0.98},{"x":1.7,"y":1.03},{"x":1.7,"y":1.08},{"x":1.7,"y":1.13},{"x":1.7,"y":1.18},{"x":1.7,"y":1.23},{"x":1.7,"y":1.28},{"x":1.7,"y":1.33},{"x":1.7,"y":1.38},{"x":1.7,"y":1.43},{"x":1.7,"y":1.48},{"x":1.7,"y":1.53},{"x":1.7,"y":1.58},
{"x":1.8,"y":0.49},{"x":1.8,"y":0.54},{"x":1.8,"y":0.59},{"x":1.8,"y":0.64},{"x":1.8,"y":0.69},{"x":1.8,"y":0.74},{"x":1.8,"y":0.79},{"x":1.8,"y":0.84},{"x":1.8,"y":0.89},{"x":1.8,"y":0.94},{"x":1.8,"y":0.99},{"x":1.8,"y":1.04},{"x":1.8,"y":1.09},{"x":1.8,"y":1.14},{"x":1.8,"y":1.19},{"x":1.8,"y":1.24},{"x":1.8,"y":1.29},{"x":1.8,"y":1.34},{"x":1.8,"y":1.39},{"x":1.8,"y":1.44},{"x":1.8,"y":1.49},{"x":1.8,"y":1.54},{"x":1.8,"y":1.59},{"x":1.8,"y":1.64},{"x":1.8,"y":1.69},{"x":1.8,"y":1.74},{"x":1.8,"y":1.79},{"x":1.8,"y":1.84},{"x":1.8,"y":1.89},{"x":1.8,"y":1.94},{"x":1.8,"y":1.99},{"x":1.8,"y":2.04},{"x":1.8,"y":2.09},
{"x":1.9,"y":0.48},{"x":1.9,"y":0.53},{"x":1.9,"y":0.58},{"x":1.9,"y":0.63},{"x":1.9,"y":0.68},{"x":1.9,"y":0.73},{"x":1.9,"y":0.78},{"x":1.9,"y":0.83},{"x":1.9,"y":0.88},{"x":1.9,"y":0.93},{"x":1.9,"y":0.98},{"x":1.9,"y":1.03},{"x":1.9,"y":1.08},{"x":1.9,"y":1.13},{"x":1.9,"y":1.18},{"x":1.9,"y":1.23},{"x":1.9,"y":1.28},{"x":1.9,"y":1.33},{"x":1.9,"y":1.38},{"x":1.9,"y":1.43},{"x":1.9,"y":1.48},{"x":1.9,"y":1.53},{"x":1.9,"y":1.58},{"x":1.9,"y":1.63},{"x":1.9,"y":1.68},{"x":1.9,"y":1.73},{"x":1.9,"y":1.78},{"x":1.9,"y":1.83},{"x":1.9,"y":1.88},{"x":1.9,"y":1.93},{"x":1.9,"y":1.98},{"x":1.9,"y":2.03},{"x":1.9,"y":2.08},{"x":1.9,"y":2.13},{"x":1.9,"y":2.18},{"x":1.9,"y":2.23},{"x":1.9,"y":2.28},{"x":1.9,"y":2.33},{"x":1.9,"y":2.38},{"x":1.9,"y":2.43},{"x":1.9,"y":2.48},
{"x":2.0,"y":0.45},{"x":2.0,"y":0.50},{"x":2.0,"y":0.55},{"x":2.0,"y":0.60},{"x":2.0,"y":0.65},{"x":2.0,"y":0.70},{"x":2.0,"y":0.75},{"x":2.0,"y":0.80},{"x":2.0,"y":0.85},{"x":2.0,"y":0.90},{"x":2.0,"y":0.95},{"x":2.0,"y":1.00},{"x":2.0,"y":1.05},{"x":2.0,"y":1.10},{"x":2.0,"y":1.15},{"x":2.0,"y":1.20},{"x":2.0,"y":1.25},{"x":2.0,"y":1.30},{"x":2.0,"y":1.35},{"x":2.0,"y":1.40},{"x":2.0,"y":1.45},{"x":2.0,"y":1.50},{"x":2.0,"y":1.55},{"x":2.0,"y":1.60},{"x":2.0,"y":1.65},{"x":2.0,"y":1.70},{"x":2.0,"y":1.75},{"x":2.0,"y":1.80},{"x":2.0,"y":1.85},{"x":2.0,"y":1.90},{"x":2.0,"y":1.95},{"x":2.0,"y":2.00},{"x":2.0,"y":2.05},{"x":2.0,"y":2.10},{"x":2.0,"y":2.15},{"x":2.0,"y":2.20},{"x":2.0,"y":2.25},{"x":2.0,"y":2.30},{"x":2.0,"y":2.35},{"x":2.0,"y":2.40},{"x":2.0,"y":2.45},{"x":2.0,"y":2.50},{"x":2.0,"y":2.55},{"x":2.0,"y":2.60},{"x":2.0,"y":2.65},{"x":2.0,"y":2.70},{"x":2.0,"y":2.75},{"x":2.0,"y":2.80},
{"x":2.1,"y":0.58},{"x":2.1,"y":0.63},{"x":2.1,"y":0.68},{"x":2.1,"y":0.73},{"x":2.1,"y":0.78},{"x":2.1,"y":0.83},{"x":2.1,"y":0.88},{"x":2.1,"y":0.93},{"x":2.1,"y":0.98},{"x":2.1,"y":1.03},{"x":2.1,"y":1.08},{"x":2.1,"y":1.13},{"x":2.1,"y":1.18},{"x":2.1,"y":1.23},{"x":2.1,"y":1.28},{"x":2.1,"y":1.33},{"x":2.1,"y":1.38},{"x":2.1,"y":1.43},{"x":2.1,"y":1.48},{"x":2.1,"y":1.53},{"x":2.1,"y":1.58},{"x":2.1,"y":1.63},{"x":2.1,"y":1.68},{"x":2.1,"y":1.73},{"x":2.1,"y":1.78},{"x":2.1,"y":1.83},{"x":2.1,"y":1.88},{"x":2.1,"y":1.93},{"x":2.1,"y":1.98},{"x":2.1,"y":2.03},{"x":2.1,"y":2.08},{"x":2.1,"y":2.13},{"x":2.1,"y":2.18},{"x":2.1,"y":2.23},{"x":2.1,"y":2.28},{"x":2.1,"y":2.33},{"x":2.1,"y":2.38},{"x":2.1,"y":2.43},{"x":2.1,"y":2.48},{"x":2.1,"y":2.53},{"x":2.1,"y":2.58},
{"x":2.2,"y":0.60},{"x":2.2,"y":0.65},{"x":2.2,"y":0.70},{"x":2.2,"y":0.75},{"x":2.2,"y":0.80},{"x":2.2,"y":0.85},{"x":2.2,"y":0.90},{"x":2.2,"y":0.95},{"x":2.2,"y":1.00},{"x":2.2,"y":1.05},{"x":2.2,"y":1.10},{"x":2.2,"y":1.15},{"x":2.2,"y":1.20},{"x":2.2,"y":1.25},{"x":2.2,"y":1.30},{"x":2.2,"y":1.35},{"x":2.2,"y":1.40},{"x":2.2,"y":1.45},{"x":2.2,"y":1.50},{"x":2.2,"y":1.55},{"x":2.2,"y":1.60},{"x":2.2,"y":1.65},{"x":2.2,"y":1.70},{"x":2.2,"y":1.75},{"x":2.2,"y":1.80},{"x":2.2,"y":1.85},{"x":2.2,"y":1.90},{"x":2.2,"y":1.95},{"x":2.2,"y":2.00},{"x":2.2,"y":2.05},{"x":2.2,"y":2.10},{"x":2.2,"y":2.15},{"x":2.2,"y":2.20},{"x":2.2,"y":2.25},{"x":2.2,"y":2.30},{"x":2.2,"y":2.35},{"x":2.2,"y":2.40},{"x":2.2,"y":2.45},
{"x":2.3,"y":0.62},{"x":2.3,"y":0.67},{"x":2.3,"y":0.72},{"x":2.3,"y":0.77},{"x":2.3,"y":0.82},{"x":2.3,"y":0.87},{"x":2.3,"y":0.92},{"x":2.3,"y":0.97},{"x":2.3,"y":1.02},{"x":2.3,"y":1.07},{"x":2.3,"y":1.12},{"x":2.3,"y":1.17},{"x":2.3,"y":1.22},{"x":2.3,"y":1.27},{"x":2.3,"y":1.32},{"x":2.3,"y":1.37},{"x":2.3,"y":1.42},{"x":2.3,"y":1.47},{"x":2.3,"y":1.52},{"x":2.3,"y":1.57},{"x":2.3,"y":1.62},{"x":2.3,"y":1.67},{"x":2.3,"y":1.72},{"x":2.3,"y":1.77},{"x":2.3,"y":1.82},{"x":2.3,"y":1.87},{"x":2.3,"y":1.92},{"x":2.3,"y":1.97},{"x":2.3,"y":2.02},{"x":2.3,"y":2.07},{"x":2.3,"y":2.12},{"x":2.3,"y":2.17},{"x":2.3,"y":2.22},{"x":2.3,"y":2.27},
{"x":2.4,"y":0.65},{"x":2.4,"y":0.70},{"x":2.4,"y":0.75},{"x":2.4,"y":0.80},{"x":2.4,"y":0.85},{"x":2.4,"y":0.90},{"x":2.4,"y":0.95},{"x":2.4,"y":1.00},{"x":2.4,"y":1.05},{"x":2.4,"y":1.10},{"x":2.4,"y":1.15},{"x":2.4,"y":1.20},{"x":2.4,"y":1.25},{"x":2.4,"y":1.30},{"x":2.4,"y":1.35},{"x":2.4,"y":1.40},{"x":2.4,"y":1.45},{"x":2.4,"y":1.50},{"x":2.4,"y":1.55},{"x":2.4,"y":1.60},{"x":2.4,"y":1.65},{"x":2.4,"y":1.70},{"x":2.4,"y":1.75},{"x":2.4,"y":1.80},{"x":2.4,"y":1.85},{"x":2.4,"y":1.90},{"x":2.4,"y":1.95},{"x":2.4,"y":2.00},{"x":2.4,"y":2.05},{"x":2.4,"y":2.10},{"x":2.4,"y":2.15},{"x":2.4,"y":2.20},
{"x":2.5,"y":0.57},{"x":2.5,"y":0.62},{"x":2.5,"y":0.67},{"x":2.5,"y":0.72},{"x":2.5,"y":0.77},{"x":2.5,"y":0.82},{"x":2.5,"y":0.87},{"x":2.5,"y":0.92},{"x":2.5,"y":0.97},{"x":2.5,"y":1.02},{"x":2.5,"y":1.07},{"x":2.5,"y":1.12},{"x":2.5,"y":1.17},{"x":2.5,"y":1.22},{"x":2.5,"y":1.27},{"x":2.5,"y":1.32},{"x":2.5,"y":1.37},{"x":2.5,"y":1.42},{"x":2.5,"y":1.47},{"x":2.5,"y":1.52},{"x":2.5,"y":1.57},{"x":2.5,"y":1.62},{"x":2.5,"y":1.67},{"x":2.5,"y":1.72},{"x":2.5,"y":1.77},
{"x":2.6,"y":0.75},{"x":2.6,"y":0.80},{"x":2.6,"y":0.85},{"x":2.6,"y":0.90},{"x":2.6,"y":0.95},{"x":2.6,"y":1.00},{"x":2.6,"y":1.05},{"x":2.6,"y":1.10},{"x":2.6,"y":1.15},{"x":2.6,"y":1.20},{"x":2.6,"y":1.25},{"x":2.6,"y":1.30},{"x":2.6,"y":1.35},{"x":2.6,"y":1.40},{"x":2.6,"y":1.45},{"x":2.6,"y":1.50},{"x":2.6,"y":1.55},{"x":2.6,"y":1.60},
{"x":2.7,"y":1.00},{"x":2.7,"y":1.05},{"x":2.7,"y":1.10},{"x":2.7,"y":1.15},{"x":2.7,"y":1.20},{"x":2.7,"y":1.25},{"x":2.7,"y":1.30},{"x":2.7,"y":1.35},{"x":2.7,"y":1.40},{"x":2.7,"y":1.45},{"x":2.7,"y":1.50},{"x":2.7,"y":1.55},
{"x":2.8,"y":1.00},{"x":2.8,"y":1.05},{"x":2.8,"y":1.10},{"x":2.8,"y":1.15},{"x":2.8,"y":1.20},{"x":2.8,"y":1.25},{"x":2.8,"y":1.30},{"x":2.8,"y":1.35},{"x":2.8,"y":1.40},
{"x":2.9,"y":1.00},{"x":2.9,"y":1.05},{"x":2.9,"y":1.10},{"x":2.9,"y":1.15},{"x":2.9,"y":1.20},{"x":2.9,"y":1.25},{"x":2.9,"y":1.30},{"x":2.9,"y":1.35},
{"x":3.0,"y":1.15},{"x":3.0,"y":1.20},{"x":3.0,"y":1.25},{"x":3.0,"y":1.30}
],
"blueSparse": [
{"x":1.6,"y":1.10},
{"x":1.7,"y":1.70},{"x":1.7,"y":1.80},{"x":1.7,"y":1.90},{"x":1.7,"y":2.00},{"x":1.7,"y":2.10},
{"x":1.8,"y":2.2},{"x":1.8,"y":2.3},{"x":1.8,"y":2.4},{"x":1.8,"y":2.5},{"x":1.8,"y":2.6},{"x":1.8,"y":2.7},{"x":1.8,"y":2.8},{"x":1.8,"y":2.9},
{"x":1.9,"y":2.6},{"x":1.9,"y":2.7},{"x":1.9,"y":2.8},{"x":1.9,"y":2.9},{"x":1.9,"y":3.0},{"x":1.9,"y":3.1},{"x":1.9,"y":3.2},{"x":1.9,"y":3.3},{"x":1.9,"y":3.4},{"x":1.9,"y":3.5},{"x":1.9,"y":3.6},{"x":1.9,"y":3.7},{"x":1.9,"y":3.8},{"x":1.9,"y":3.9},{"x":1.9,"y":4.0},
{"x":2.0,"y":2.9},{"x":2.0,"y":3.0},{"x":2.0,"y":3.1},{"x":2.0,"y":3.2},{"x":2.0,"y":3.3},{"x":2.0,"y":3.4},{"x":2.0,"y":3.5},{"x":2.0,"y":3.6},{"x":2.0,"y":3.7},{"x":2.0,"y":3.8},{"x":2.0,"y":3.9},{"x":2.0,"y":4.0},
{"x":2.1,"y":2.7},{"x":2.1,"y":2.8},{"x":2.1,"y":2.9},{"x":2.1,"y":3.0},{"x":2.1,"y":3.1},{"x":2.1,"y":3.2},{"x":2.1,"y":3.3},{"x":2.1,"y":3.4},{"x":2.1,"y":3.5},{"x":2.1,"y":3.6},{"x":2.1,"y":3.7},{"x":2.1,"y":3.8},{"x":2.1,"y":3.9},
{"x":2.2,"y":2.55},{"x":2.2,"y":2.65},{"x":2.2,"y":2.75},{"x":2.2,"y":2.85},{"x":2.2,"y":2.95},{"x":2.2,"y":3.05},{"x":2.2,"y":3.15},{"x":2.2,"y":3.25},{"x":2.2,"y":3.35},{"x":2.2,"y":3.45},{"x":2.2,"y":3.55},{"x":2.2,"y":3.65},
{"x":2.3,"y":2.4},{"x":2.3,"y":2.5},{"x":2.3,"y":2.6},{"x":2.3,"y":2.7},{"x":2.3,"y":2.8},{"x":2.3,"y":2.9},{"x":2.3,"y":3.0},{"x":2.3,"y":3.1},{"x":2.3,"y":3.2},{"x":2.3,"y":3.3},
{"x":2.4,"y":2.3},{"x":2.4,"y":2.4},{"x":2.4,"y":2.5},{"x":2.4,"y":2.6},{"x":2.4,"y":2.7},{"x":2.4,"y":2.8},{"x":2.4,"y":2.9},{"x":2.4,"y":3.0},{"x":2.4,"y":3.1},{"x":2.4,"y":3.2},
{"x":2.5,"y":1.9},{"x":2.5,"y":2.0},{"x":2.5,"y":2.1},
{"x":2.6,"y":1.70}
]
},
"layer": [
{"data": {"name": "red"},
 "mark": {"type": "point", "shape": "circle", "filled": false, "stroke": "#ff0000", "strokeWidth": 1, "size": 30, "opacity": 1},
 "encoding": {
  "x": {"field": "x", "type": "quantitative", "scale": {"domain": [0.5, 4.5], "nice": false},
        "axis": {"orient": "bottom", "values": [1, 1.5, 2, 2.5, 3, 3.5, 4], "labelExpr": "datum.value % 1 ? '' : datum.label", "tickSize": {"condition": {"test": "datum.value % 1 != 0", "value": -3}, "value": -6}, "labelPadding": 14}},
  "y": {"field": "y", "type": "quantitative", "scale": {"domain": [0, 4], "nice": false, "zero": false},
        "axis": {"orient": "left", "values": [0, 0.5, 1, 1.5, 2, 2.5, 3, 3.5, 4], "labelExpr": "datum.value % 1 ? '' : datum.label", "tickSize": {"condition": {"test": "datum.value % 1 != 0", "value": -3}, "value": -6}, "labelPadding": 9}}
 }},
{"data": {"name": "green"},
 "mark": {"type": "point", "shape": "triangle-up", "filled": false, "stroke": "#00ff00", "strokeWidth": 1.3, "size": 48, "opacity": 1},
 "encoding": {
  "x": {"field": "x", "type": "quantitative", "scale": {"domain": [0.5, 4.5], "nice": false},
        "axis": {"orient": "top", "values": [1, 1.5, 2, 2.5, 3, 3.5, 4], "labels": false, "tickSize": {"condition": {"test": "datum.value % 1 != 0", "value": -3}, "value": -6}}},
  "y": {"field": "y", "type": "quantitative", "scale": {"domain": [0, 4], "nice": false, "zero": false},
        "axis": {"orient": "right", "values": [0, 0.5, 1, 1.5, 2, 2.5, 3, 3.5, 4], "labels": false, "tickSize": {"condition": {"test": "datum.value % 1 != 0", "value": -3}, "value": -6}}}
 }},
{"data": {"name": "blue"},
 "mark": {"type": "point", "shape": "M-0.6,-1H0.6V1H-0.6Z", "filled": true, "fill": "#0000ff", "strokeWidth": 0, "size": 17, "opacity": 1},
 "encoding": {
  "x": {"field": "x", "type": "quantitative", "scale": {"domain": [0.5, 4.5], "nice": false}, "axis": null},
  "y": {"field": "y", "type": "quantitative", "scale": {"domain": [0, 4], "nice": false, "zero": false}, "axis": null}
 }},
{"data": {"name": "blueSparse"},
 "mark": {"type": "point", "shape": "square", "filled": true, "fill": "#0000ff", "strokeWidth": 0, "size": 6, "opacity": 1},
 "encoding": {
  "x": {"field": "x", "type": "quantitative", "scale": {"domain": [0.5, 4.5], "nice": false}, "axis": null},
  "y": {"field": "y", "type": "quantitative", "scale": {"domain": [0, 4], "nice": false, "zero": false}, "axis": null}
 }},
{"data": {"values": [{"x": 1}]},
 "mark": {"type": "rule", "stroke": "#333333", "strokeWidth": 1, "strokeDash": [2, 2]},
 "encoding": {"x": {"field": "x", "type": "quantitative", "scale": {"domain": [0.5, 4.5], "nice": false}, "axis": null}}},
{"data": {"values": [{"y": 1}]},
 "mark": {"type": "rule", "stroke": "#222222", "strokeWidth": 1, "strokeDash": [9, 3, 2, 3]},
 "encoding": {"y": {"field": "y", "type": "quantitative", "scale": {"domain": [0, 4], "nice": false, "zero": false}, "axis": null}}},
{"data": {"values": [{"label": "|Λ₁|=46 TeV", "x": 0.63, "y": 2.94}]},
 "mark": {"type": "text", "align": "left", "baseline": "middle", "font": "Liberation Serif", "fontSize": 18, "fill": "#2233dd"},
 "encoding": {"x": {"field": "x", "type": "quantitative", "scale": {"domain": [0.5, 4.5], "nice": false}, "axis": null},
              "y": {"field": "y", "type": "quantitative", "scale": {"domain": [0, 4], "nice": false, "zero": false}, "axis": null},
              "text": {"field": "label"}}},
{"data": {"values": [{"label": "|Λ₁|=26 TeV", "x": 3.245, "y": 3.85}]},
 "mark": {"type": "text", "align": "left", "baseline": "middle", "font": "Liberation Serif", "fontSize": 18, "fill": "#ee1111"},
 "encoding": {"x": {"field": "x", "type": "quantitative", "scale": {"domain": [0.5, 4.5], "nice": false}, "axis": null},
              "y": {"field": "y", "type": "quantitative", "scale": {"domain": [0, 4], "nice": false, "zero": false}, "axis": null},
              "text": {"field": "label"}}},
{"data": {"values": [{"label": "|Λ₁|=36 TeV", "x": 2.17, "y": 0.46}]},
 "mark": {"type": "text", "align": "left", "baseline": "middle", "font": "Liberation Serif", "fontSize": 18, "fill": "#23942a"},
 "encoding": {"x": {"field": "x", "type": "quantitative", "scale": {"domain": [0.5, 4.5], "nice": false}, "axis": null},
              "y": {"field": "y", "type": "quantitative", "scale": {"domain": [0, 4], "nice": false, "zero": false}, "axis": null},
              "text": {"field": "label"}}},
{"data": {"values": [{"label": "|Λ₂/Λ₁|", "x": 2.53, "y": -0.18}]},
 "mark": {"type": "text", "align": "center", "baseline": "middle", "font": "Liberation Serif", "fontSize": 16, "fill": "black"},
 "encoding": {"x": {"field": "x", "type": "quantitative", "scale": {"domain": [0.5, 4.5], "nice": false}, "axis": null},
              "y": {"field": "y", "type": "quantitative", "scale": {"domain": [0, 4], "nice": false, "zero": false}, "axis": null},
              "text": {"field": "label"}}},
{"data": {"values": [{"label": "|B/μ|", "x": 0.49, "y": 2.6}]},
 "mark": {"type": "text", "align": "right", "baseline": "middle", "font": "Liberation Serif", "fontSize": 17, "fill": "black"},
 "encoding": {"x": {"field": "x", "type": "quantitative", "scale": {"domain": [0.5, 4.5], "nice": false}, "axis": null},
              "y": {"field": "y", "type": "quantitative", "scale": {"domain": [0, 4], "nice": false, "zero": false}, "axis": null},
              "text": {"field": "label"}}}
]
}
